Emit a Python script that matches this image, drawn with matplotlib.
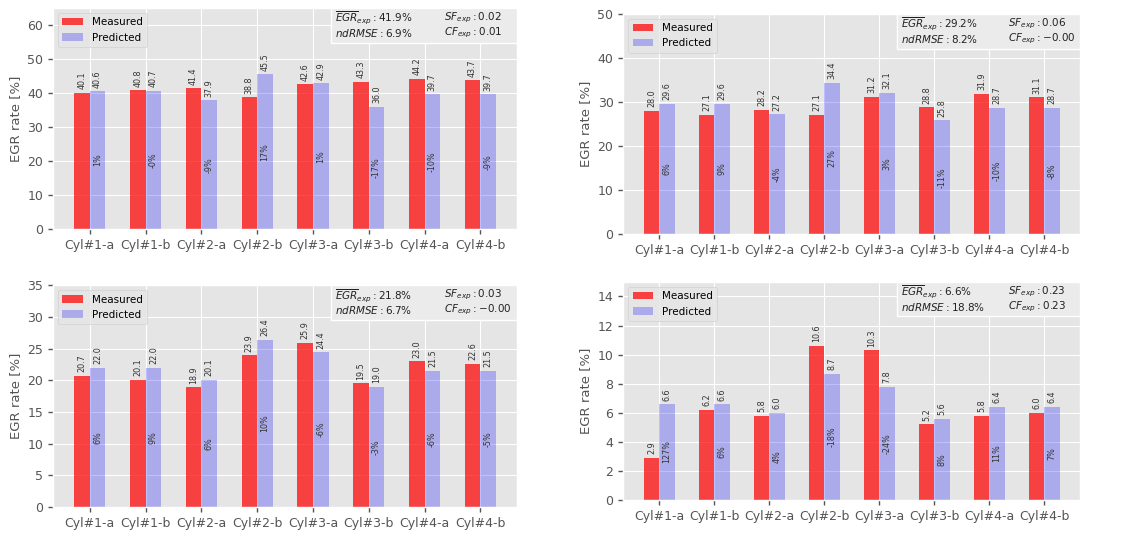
import matplotlib
matplotlib.use('Agg')
import matplotlib.pyplot as plt
import numpy as np
from matplotlib.patches import Rectangle

plt.style.use('ggplot')

cyl_labels = ['Cyl#1-a', 'Cyl#1-b', 'Cyl#2-a', 'Cyl#2-b', 'Cyl#3-a', 'Cyl#3-b', 'Cyl#4-a', 'Cyl#4-b']

meas_1 = [40.1, 40.8, 41.4, 38.8, 42.6, 43.3, 44.2, 43.7]
pred_1 = [40.6, 40.7, 37.9, 45.5, 42.9, 36.0, 39.7, 39.7]
pct_1 = ['1%', '-0%', '-9%', '17%', '1%', '-17%', '-10%', '-9%']
stats_1 = ['41.9', '6.9', '0.02', '0.01']

meas_2 = [28.0, 27.1, 28.2, 27.1, 31.2, 28.8, 31.9, 31.1]
pred_2 = [29.6, 29.6, 27.2, 34.4, 32.1, 25.8, 28.7, 28.7]
pct_2 = ['6%', '9%', '-4%', '27%', '3%', '-11%', '-10%', '-8%']
stats_2 = ['29.2', '8.2', '0.06', '-0.00']

meas_3 = [20.7, 20.1, 18.9, 23.9, 25.9, 19.5, 23.0, 22.6]
pred_3 = [22.0, 22.0, 20.1, 26.4, 24.4, 19.0, 21.5, 21.5]
pct_3 = ['6%', '9%', '6%', '10%', '-6%', '-3%', '-6%', '-5%']
stats_3 = ['21.8', '6.7', '0.03', '-0.00']

meas_4 = [2.9, 6.2, 5.8, 10.6, 10.3, 5.2, 5.8, 6.0]
pred_4 = [6.6, 6.6, 6.0, 8.7, 7.8, 5.6, 6.4, 6.4]
pct_4 = ['127%', '6%', '4%', '-18%', '-24%', '8%', '11%', '7%']
stats_4 = ['6.6', '18.8', '0.23', '0.23']

fig = plt.figure(figsize=(11.29, 5.33), dpi=100)

panels = [
    ([0.047, 0.570, 0.411, 0.415], meas_1, pred_1, pct_1, stats_1, 65, 10),
    ([0.552, 0.561, 0.405, 0.413], meas_2, pred_2, pct_2, stats_2, 50, 10),
    ([0.047, 0.049, 0.411, 0.416], meas_3, pred_3, pct_3, stats_3, 35, 5),
    ([0.552, 0.062, 0.405, 0.409], meas_4, pred_4, pct_4, stats_4, 15, 2),
]

w = 0.28
for rect, meas, pred, pct, stats, ymax, ystep in panels:
    ax = fig.add_axes(rect)
    x = np.arange(len(cyl_labels))
    b1 = ax.bar(x - w / 2, meas, w, color='red', alpha=0.72, label='Measured')
    b2 = ax.bar(x + w / 2, pred, w, color='blue', alpha=0.25, label='Predicted')
    for bars, vals in [(b1, meas), (b2, pred)]:
        for b, v in zip(bars, vals):
            ax.annotate('%.1f' % v, (b.get_x() + b.get_width() / 2, v),
                        xytext=(0, 2.5), textcoords='offset points',
                        rotation=90, ha='center', va='bottom', fontsize=5.8, color='#333333')
    for b, v, p in zip(b2, pred, pct):
        ax.text(b.get_x() + b.get_width() / 2, v / 2, p, rotation=90,
                ha='center', va='center', fontsize=5.8, color='#333333')
    ax.set_ylim(0, ymax)
    ax.set_yticks(np.arange(0, ymax + 0.01, ystep))
    ax.set_xticks(x)
    ax.set_xticklabels(cyl_labels, fontsize=9)
    ax.tick_params(axis='y', labelsize=9)
    ax.tick_params(length=3.5, width=1, color='#555555', direction='out')
    ax.set_ylabel('EGR rate [%]', fontsize=9.5)
    ax.legend(loc='upper left', fontsize=7.5)

    # stats box in the upper right corner
    ax.add_patch(Rectangle((0.598, 0.842), 0.402, 0.158, transform=ax.transAxes,
                           facecolor='#ebebeb', edgecolor='white', lw=1, zorder=5))
    ax.text(0.608, 0.955, r'$\overline{EGR}_{exp}: %s\%%$' % stats[0], transform=ax.transAxes,
            va='center', fontsize=7.5, color='#222222', zorder=6)
    ax.text(0.608, 0.887, r'$ndRMSE: %s\%%$' % stats[1], transform=ax.transAxes,
            va='center', fontsize=7.5, color='#222222', zorder=6)
    ax.text(0.842, 0.955, r'$SF_{exp}: %s$' % stats[2], transform=ax.transAxes,
            va='center', fontsize=7.5, color='#222222', zorder=6)
    ax.text(0.842, 0.887, r'$CF_{exp}: %s$' % stats[3], transform=ax.transAxes,
            va='center', fontsize=7.5, color='#222222', zorder=6)

fig.savefig('out.png', dpi=100)
